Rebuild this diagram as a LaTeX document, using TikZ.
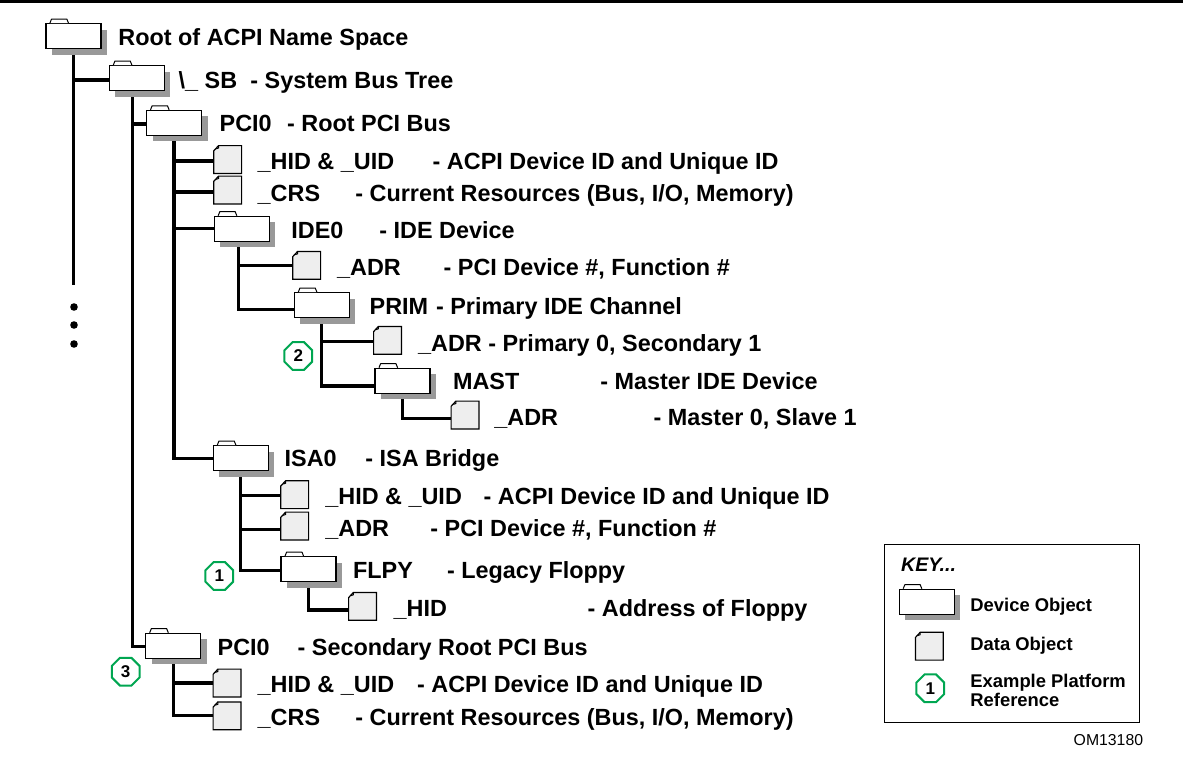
\documentclass[tikz,border=0pt]{standalone}
\usepackage{fontspec}
\setmainfont{Liberation Sans}
\usetikzlibrary{shapes.geometric,shadows,backgrounds}
\definecolor{refgreen}{RGB}{0,166,81}
\definecolor{datafill}{RGB}{238,238,238}
\definecolor{shadowgray}{RGB}{153,153,153}
\begin{document}
\begin{tikzpicture}[x=0.5pt,y=-0.5pt,
  folder/.style={draw, fill=white, line width=0.6pt, minimum width=27.5pt, minimum height=12.5pt, inner sep=0pt,
    general shadow={fill=shadowgray, shadow xshift=3pt, shadow yshift=-3pt}},
  tab/.style={draw, fill=white, line width=0.5pt, line join=round},
  dataobj/.style={rectangle, minimum width=13.5pt, minimum height=13.5pt, inner sep=0pt},
  dataedge/.style={draw, fill=datafill, line width=0.6pt, line join=miter},
  conn/.style={line width=1.6pt},
  lbl/.style={anchor=base west, inner sep=0pt, font=\fontsize{11.7}{14}\selectfont\bfseries},
  keylbl/.style={anchor=base west, inner sep=0pt, font=\fontsize{9.2}{11}\selectfont\bfseries},
  badge/.style={regular polygon, regular polygon sides=8, draw=refgreen, line width=1pt, minimum size=15pt,
    inner sep=0pt, font=\fontsize{8.5}{10}\selectfont\bfseries},
  dot/.style={circle, fill=black, inner sep=0pt, minimum size=3.8pt}
]
\useasboundingbox (0,0) rectangle (1183,761);
\draw[line width=1.6pt] (0,1.6) -- (1183,1.6);

% device objects
\node[folder] (root) at (73.4,36.2) {};
\node[folder] (sb)   at (136.8,78.2) {};
\node[folder] (pci)  at (174,122.9) {};
\node[folder] (ide)  at (241.7,228.8) {};
\node[folder] (prim) at (321.8,305.2) {};
\node[folder] (mast) at (402.5,380.8) {};
\node[folder] (isa)  at (240.8,458.2) {};
\node[folder] (flpy) at (308.5,569.2) {};
\node[folder] (pcib) at (173.2,645.8) {};
\node[folder] (keyf) at (926.7,601.8) {};
\foreach \n in {root,sb,pci,ide,prim,mast,isa,flpy,pcib,keyf}
  \draw[tab] ([xshift=2.3pt]\n.north west) -- ++(0.8pt,2pt) -- ++(7.7pt,0) -- ++(0.8pt,-2pt);

% data objects
\node[dataobj] (hid1) at (227.7,159.5) {};
\node[dataobj] (crs1) at (227.7,190) {};
\node[dataobj] (adr1) at (306.7,265.3) {};
\node[dataobj] (adr2) at (387.5,340.3) {};
\node[dataobj] (adr3) at (465,415) {};
\node[dataobj] (hid2) at (294.7,494.7) {};
\node[dataobj] (adr4) at (294.7,526) {};
\node[dataobj] (hid3) at (362.5,606.3) {};
\node[dataobj] (hid4) at (227,683) {};
\node[dataobj] (crs4) at (227,715.8) {};
\node[dataobj] (keyd) at (929.3,646.2) {};
\foreach \n in {hid1,crs1,adr1,adr2,adr3,hid2,adr4,hid3,hid4,crs4,keyd} {
  \draw[dataedge] (\n.south west) -- (\n.south east) -- (\n.north east)
    -- ([xshift=2.4pt]\n.north west) -- ([yshift=-2.6pt]\n.north west) -- cycle;
  \draw[line width=0.5pt] ([xshift=2.4pt]\n.north west) -- ([xshift=2.4pt,yshift=-1.2pt]\n.north west)
    -- ([xshift=1.2pt,yshift=-1.6pt]\n.north west);
}

\coordinate (rootend) at (73.4,285);
\node[dot] (dot1) at (74,307) {};
\node[dot] (dot2) at (74,325) {};
\node[dot] (dot3) at (74,344) {};

% connectors
\begin{scope}[on background layer]
\draw[conn] (root.south) -- (rootend);
\draw[conn] (root.south) |- ([yshift=-0.9pt]sb.west);
\draw[conn] ([xshift=-2.25pt]sb.south) |- ([yshift=-0.55pt]pci.west);
\draw[conn] ([xshift=-2.25pt]sb.south) |- ([yshift=-0.45pt]pcib.west);
\draw[conn] (pci.south) |- ([yshift=-0.75pt]hid1.west);
\draw[conn] (pci.south) |- ([yshift=-1pt]crs1.west);
\draw[conn] (pci.south) |- (ide.west);
\draw[conn] (pci.south) |- (isa.west);
\draw[conn] ([xshift=-1.7pt]ide.south) |- (adr1.west);
\draw[conn] ([xshift=-1.7pt]ide.south) |- ([yshift=-2pt]prim.west);
\draw[conn] (prim.south) |- ([yshift=-0.7pt]adr2.west);
\draw[conn] (prim.south) |- ([yshift=-2.6pt]mast.west);
\draw[conn] (mast.south) |- ([yshift=-1.6pt]adr3.west);
\draw[conn] (isa.south) |- ([yshift=-0.2pt]hid2.west);
\draw[conn] (isa.south) |- ([yshift=-1.6pt]adr4.west);
\draw[conn] (isa.south) |- ([yshift=-0.7pt]flpy.west);
\draw[conn] (flpy.south) |- ([yshift=-1.8pt]hid3.west);
\draw[conn] (pcib.south) |- (hid4.west);
\draw[conn] (pcib.south) |- (crs4.west);
\end{scope}

% labels
\node[lbl] (n-root) at (118,45) {Root of ACPI Name Space};
\node[lbl] (n-sb) at (178.3,88.3) {\textbackslash\_ SB};
\node[lbl] (d-sb) at (250,88.3) {- System Bus Tree};
\node[lbl] (n-pci) at (219.3,131) {PCI0};
\node[lbl] (d-pci) at (286.7,131) {- Root PCI Bus};
\node[lbl] (n-hid1) at (257.3,169.3) {\_HID \& \_UID};
\node[lbl] (d-hid1) at (432.3,169.3) {- ACPI Device ID and Unique ID};
\node[lbl] (n-crs1) at (257.3,201) {\_CRS};
\node[lbl] (d-crs1) at (355,201) {- Current Resources (Bus, I/O, Memory)};
\node[lbl] (n-ide) at (291,238.3) {IDE0};
\node[lbl] (d-ide) at (379,238.3) {- IDE Device};
\node[lbl] (n-adr1) at (336.7,275.7) {\_ADR};
\node[lbl] (d-adr1) at (443.3,275.7) {- PCI Device \#, Function \#};
\node[lbl] (n-prim) at (369.3,314.3) {PRIM};
\node[lbl] (d-prim) at (435.7,314.3) {- Primary IDE Channel};
\node[lbl] (n-adr2) at (417.7,351) {\_ADR - Primary 0, Secondary 1};
\node[lbl] (n-mast) at (452.7,389.3) {MAST};
\node[lbl] (d-mast) at (600,389.3) {- Master IDE Device};
\node[lbl] (n-adr3) at (494,425.7) {\_ADR};
\node[lbl] (d-adr3) at (653.3,425.7) {- Master 0, Slave 1};
\node[lbl] (n-isa) at (284.3,466.7) {ISA0};
\node[lbl] (d-isa) at (365,466.7) {- ISA Bridge};
\node[lbl] (n-hid2) at (325,504) {\_HID \& \_UID};
\node[lbl] (d-hid2) at (483.3,504) {- ACPI Device ID and Unique ID};
\node[lbl] (n-adr4) at (325,536.7) {\_ADR};
\node[lbl] (d-adr4) at (430,536.7) {- PCI Device \#, Function \#};
\node[lbl] (n-flpy) at (352.7,578.3) {FLPY};
\node[lbl] (d-flpy) at (446.7,578.3) {- Legacy Floppy};
\node[lbl] (n-hid3) at (393.3,616.5) {\_HID};
\node[lbl] (d-hid3) at (587.3,616.5) {- Address of Floppy};
\node[lbl] (n-pcib) at (217.3,655) {PCI0};
\node[lbl] (d-pcib) at (297.3,655) {- Secondary Root PCI Bus};
\node[lbl] (n-hid4) at (257.3,692.7) {\_HID \& \_UID};
\node[lbl] (d-hid4) at (416.7,692.7) {- ACPI Device ID and Unique ID};
\node[lbl] (n-crs4) at (257.3,725) {\_CRS};
\node[lbl] (d-crs4) at (355,725) {- Current Resources (Bus, I/O, Memory)};

% reference badges
\node[badge] (b2) at (298.3,356) {2};
\node[badge] (b1) at (219.3,576) {1};
\node[badge] (b3) at (125.7,671.7) {3};

% key
\node[draw, line width=0.6pt, minimum width=127.5pt, minimum height=89pt, inner sep=0pt] (keybox) at (1011.8,633.3) {};
\node[anchor=base west, inner sep=0pt, font=\fontsize{9.8}{11}\selectfont\bfseries\itshape] (keytitle) at (900.7,571.7) {KEY...};
\node[keylbl] (k-dev) at (970,611.7) {Device Object};
\node[keylbl] (k-data) at (970,650) {Data Object};
\node[badge] (bkey) at (930.3,688.3) {1};
\node[anchor=north west, inner sep=0pt, align=left, font=\fontsize{9.2}{8.5}\selectfont\bfseries] (k-ref) at (970,673.9) {Example Platform\\Reference};
\node[anchor=base west, inner sep=0pt, font=\fontsize{7.9}{9}\selectfont] (om) at (1073.3,745.7) {OM13180};
\end{tikzpicture}
\end{document}
